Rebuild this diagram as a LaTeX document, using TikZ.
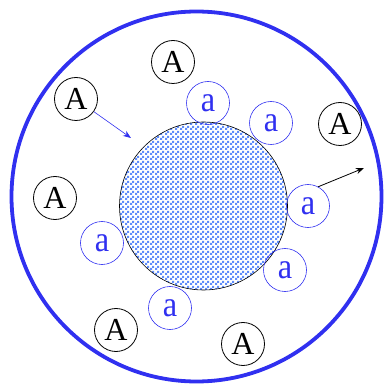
\documentclass[tikz,border=0pt]{standalone}
\usepackage{fontspec}
\setmainfont{Liberation Serif}
\usetikzlibrary{arrows.meta, patterns}

\definecolor{ringblue}{RGB}{48,48,240}
\definecolor{checkblue}{RGB}{95,140,250}

% a finer checkerboard than the library one
\pgfdeclarepatternformonly{fine checker}{\pgfpointorigin}{\pgfqpoint{5pt}{5pt}}{\pgfqpoint{5pt}{5pt}}{
  \pgfpathrectangle{\pgfpointorigin}{\pgfqpoint{2.5pt}{2.5pt}}
  \pgfpathrectangle{\pgfqpoint{2.5pt}{2.5pt}}{\pgfqpoint{2.5pt}{2.5pt}}
  \pgfusepath{fill}
}

\begin{document}
\begin{tikzpicture}[
  x=1pt, y=-1pt,
  big A/.style={
    draw,
    circle,
    thick,
    minimum size=43pt,
    inner sep=0pt,
    font=\fontsize{32}{32}\selectfont
  },
  small a/.style={
    draw=ringblue,
    circle,
    semithick,
    minimum size=43pt,
    inner sep=0pt,
    text=ringblue,
    font=\fontsize{36}{36}\selectfont
  },
  push arrow/.style={
    -{Stealth[length=8pt, width=6pt]},
    semithick
  }
]
\useasboundingbox (0,0) rectangle (386,385);

% outer ring and the core
\draw[ringblue, line width=3.8pt] (196.5,196.5) circle[radius=185];
\node[circle, draw, semithick, minimum size=168pt, inner sep=0pt,
  fill=white, pattern=fine checker, pattern color=checkblue] (core) at (203.5,206) {};

% large particles
\node[big A] (A1) at (173,62) {A};
\node[big A] (A2) at (76,99) {A};
\node[big A] (A3) at (340,124) {A};
\node[big A] (A4) at (55,198) {A};
\node[big A] (A5) at (116,330) {A};
\node[big A] (A6) at (243,344) {A};

% small particles round the core
\node[small a] (a1) at (208,103) {\scalebox{0.9}[1]{a}};
\node[small a] (a2) at (271,123) {\scalebox{0.9}[1]{a}};
\node[small a] (a3) at (308,206) {\scalebox{0.9}[1]{a}};
\node[small a] (a4) at (102,243) {\scalebox{0.9}[1]{a}};
\node[small a] (a5) at (285,270) {\scalebox{0.9}[1]{a}};
\node[small a] (a6) at (170,308) {\scalebox{0.9}[1]{a}};

\coordinate (in tip) at (131,138);
\coordinate (out tip) at (364,168);

\draw[push arrow, ringblue] (A2) -- (in tip);
\draw[push arrow, thick] (a3.62) -- (out tip);

\end{tikzpicture}
\end{document}
